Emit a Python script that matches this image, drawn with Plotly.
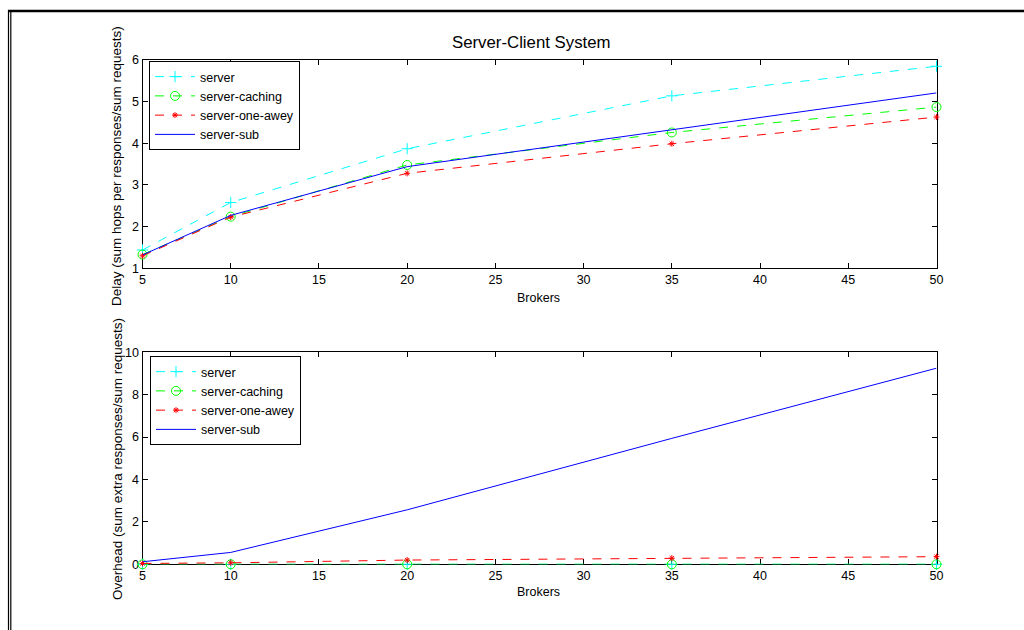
import plotly.graph_objects as go

W, H = 1024, 630

brokers = [5, 10, 20, 35, 50]
series_names = ["server", "server-caching", "server-one-awey", "server-sub"]

delay_server = [1.44, 2.58, 3.87, 5.14, 5.85]
delay_caching = [1.33, 2.24, 3.48, 4.26, 4.87]
delay_oneawey = [1.30, 2.23, 3.28, 3.99, 4.63]
delay_sub = [1.32, 2.27, 3.44, 4.33, 5.21]

over_server = [0, 0, 0, 0, 0]
over_caching = [0, 0, 0, 0, 0]
over_oneawey = [0.04, 0.07, 0.20, 0.29, 0.36]
over_sub = [0.12, 0.56, 2.57, 5.94, 9.25]

x_ticks = [5, 10, 15, 20, 25, 30, 35, 40, 45, 50]
delay_ticks = [1, 2, 3, 4, 5, 6]
over_ticks = [0, 2, 4, 6, 8, 10]

FONT = "Liberation Sans, Arial, sans-serif"
styles = [
    dict(color="#00FFFF", dash="dash", symbol="cross-thin-open", size=8),
    dict(color="#00FF00", dash="dash", symbol="circle-open", size=9),
    dict(color="#FF0000", dash="dash", symbol="asterisk-open", size=5),
    dict(color="#0000FF", dash="solid", symbol=None, size=0),
]

def px(xp):
    return xp / W

def py(yp):
    return 1 - yp / H

fig = go.Figure()

def add_set(ys_list, xa, ya, legend):
    for name, ys, st in zip(series_names, ys_list, styles):
        mode = "lines+markers" if st["symbol"] else "lines"
        kw = {}
        if st["symbol"]:
            kw["marker"] = dict(symbol=st["symbol"], size=st["size"], color=st["color"],
                                line=dict(color=st["color"], width=1))
        fig.add_trace(go.Scatter(
            x=brokers, y=ys, name=name, mode=mode,
            line=dict(color=st["color"], width=1, dash=st["dash"]),
            xaxis=xa, yaxis=ya, legend=legend, cliponaxis=False, **kw))

add_set([delay_server, delay_caching, delay_oneawey, delay_sub], "x", "y", "legend")
add_set([over_server, over_caching, over_oneawey, over_sub], "x2", "y2", "legend2")

axis_common = dict(showgrid=False, zeroline=False, showline=True, mirror="ticks",
                   linecolor="black", linewidth=1, ticks="inside", ticklen=5,
                   tickcolor="black", automargin=False, layer="below traces",
                   tickfont=dict(family=FONT, size=12.5, color="black"))

xdom = [px(142.5), px(936.5)]
fig.update_layout(
    width=W, height=H, margin=dict(l=0, r=0, t=0, b=0, pad=0, autoexpand=False),
    paper_bgcolor="white", plot_bgcolor="white", showlegend=True,
    font=dict(family=FONT, color="black"),
    xaxis=dict(domain=xdom, range=[5, 50], tickvals=x_ticks, anchor="y", **axis_common),
    yaxis=dict(domain=[py(268.3), py(60)], range=[1, 6], tickvals=delay_ticks, anchor="x", **axis_common),
    xaxis2=dict(domain=xdom, range=[5, 50], tickvals=x_ticks, anchor="y2", **axis_common),
    yaxis2=dict(domain=[py(564.3), py(352.3)], range=[0, 10], tickvals=over_ticks, anchor="x2", **axis_common),
    legend=dict(x=px(149), y=py(61), xanchor="left", yanchor="top", bgcolor="white",
                bordercolor="black", borderwidth=1, itemwidth=40,
                font=dict(family=FONT, size=12.5, color="black"), tracegroupgap=0),
    legend2=dict(x=px(150), y=py(356), xanchor="left", yanchor="top", bgcolor="white",
                 bordercolor="black", borderwidth=1, itemwidth=40,
                 font=dict(family=FONT, size=12.5, color="black"), tracegroupgap=0),
)

annots = [
    dict(text="Server-Client System", x=px(531), y=py(43), size=16.8),
    dict(text="Brokers", x=px(538), y=py(298), size=12.5),
    dict(text="Brokers", x=px(538), y=py(592), size=12.5),
]
for a in annots:
    fig.add_annotation(text=a["text"], x=a["x"], y=a["y"], xref="paper", yref="paper",
                       showarrow=False, xanchor="center", yanchor="middle",
                       font=dict(family=FONT, size=a["size"], color="black"))
for txt, yc in [("Delay (sum hops per responses/sum requests)", 166),
                ("Overhead (sum extra responses/sum requests)", 459)]:
    fig.add_annotation(text=txt, x=px(117), y=py(yc), xref="paper", yref="paper",
                       showarrow=False, textangle=-90, xanchor="center", yanchor="middle",
                       font=dict(family=FONT, size=13.5, color="black"))

# page frame
fig.add_shape(type="line", xref="paper", yref="paper", x0=px(8), x1=1, y0=py(11), y1=py(11),
              line=dict(color="black", width=2.5))
fig.add_shape(type="line", xref="paper", yref="paper", x0=px(8.5), x1=px(8.5), y0=py(10), y1=0,
              line=dict(color="black", width=1.2))
fig.add_shape(type="line", xref="paper", yref="paper", x0=px(10.8), x1=px(10.8), y0=py(12), y1=0,
              line=dict(color="black", width=1.2))

fig.write_html("out.html", config={"responsive": False, "displayModeBar": False},
               post_script="document.body.style.margin='0';document.body.style.padding='0';"
                           "document.body.style.overflow='hidden';"
                           "document.documentElement.style.overflow='hidden';")
